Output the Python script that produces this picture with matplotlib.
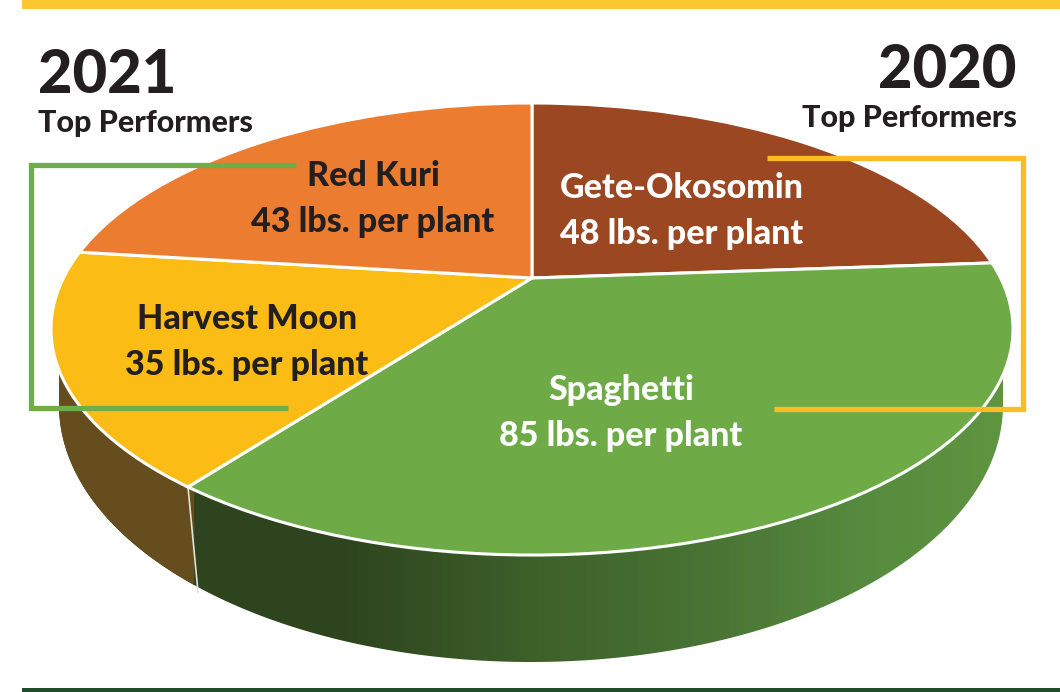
import numpy as np
import matplotlib
matplotlib.use('Agg')
import matplotlib.pyplot as plt
from matplotlib.colors import LinearSegmentedColormap
from matplotlib.patches import Polygon
from matplotlib.transforms import Transform

# pounds per plant as printed, slice sizes (degrees)
varieties = ['Gete-Okosomin', 'Spaghetti', 'Harvest Moon', 'Red Kuri']
lbs = [48, 85, 35, 43]
slice_deg = [85.9, 131.1, 60.1, 82.9]
colors = ['#9a4722', '#6eab47', '#fbbc15', '#eb7c30']
text_colors = ['white', 'white', '#231f20', '#231f20']
label_xy = [(682, 211), (621, 413), (247, 342), (373, 199)]


class Tilt(Transform):
    # unit pie seen in perspective, output in image pixels
    input_dims = 2
    output_dims = 2

    def transform_non_affine(self, xy):
        xy = np.asarray(xy)
        w = 1 + 0.2257 * xy[:, 1]
        return np.column_stack([532 + 468.6 * xy[:, 0] / w, 278 - 214.5 * xy[:, 1] / w])


fig = plt.figure(figsize=(10.6, 6.92), dpi=100)
ax = fig.add_axes([0, 0, 1, 1])

# side wall, hidden part runs behind the top of the pie
t = np.linspace(0, np.pi, 200)
wall_x = np.r_[531 + 472 * np.cos(t), 59, 1003]
wall_y = np.r_[405 + 257 * np.sin(t), 340, 340]
wall = Polygon(np.column_stack([wall_x, wall_y]), closed=True, fc='none', ec='none')
ax.add_patch(wall)
green = LinearSegmentedColormap.from_list('wall', [(0, '#2e441e'), (0.3, '#2e441e'), (0.5, '#3d6029'),
                                                   (0.7, '#4a7535'), (0.85, '#568a3e'), (1, '#5f9540')])
grad = ax.imshow(np.linspace(0, 1, 256).reshape(1, -1), cmap=green, extent=[59, 1003, 670, 340],
                 aspect='auto', zorder=1)
grad.set_clip_path(wall)
brown = ax.fill_betweenx([340, 670], 50, [193, 193], color='#664d1e', zorder=2)
brown.set_clip_path(wall)
ax.plot([188, 198], [487, 592], color='#dfe3da', lw=1.2, zorder=3)

wedges, _ = ax.pie(slice_deg, colors=colors, startangle=90, counterclock=False,
                   wedgeprops=dict(edgecolor='white', linewidth=2.2))
tilt = Tilt() + ax.transData
for w in wedges:
    w.set_transform(tilt)
    w.set_zorder(4)

ax.set_aspect('auto')
ax.set_xlim(0, 1060)
ax.set_ylim(692, 0)
ax.axis('off')

for name, val, col, (x, y) in zip(varieties, lbs, text_colors, label_xy):
    ax.text(x, y, name + '\n' + str(val) + ' lbs. per plant', color=col, ha='center', va='center',
            fontsize=24.5, fontweight=900, family='Lato', linespacing=1.55, zorder=6)

# brackets tying each year to its slices
ax.plot([296, 31, 31, 288], [165, 165, 408, 408], color='#70ad47', lw=3.8,
        solid_joinstyle='miter', solid_capstyle='butt', zorder=5)
ax.plot([767, 1023, 1023, 774], [158, 158, 409, 409], color='#fdbc24', lw=3.8,
        solid_joinstyle='miter', solid_capstyle='butt', zorder=5)

# page furniture
ax.fill_between([22, 1060], 0, 9, color='#ffc72f', lw=0, zorder=1)
ax.fill_between([22, 1060], 688, 692, color='#1f4d2b', lw=0, zorder=1)

ax.text(38, 93, '2021', color='#231f20', fontsize=43, fontweight=900, family='Lato', va='baseline', zorder=6)
ax.text(38, 132, 'Top Performers', color='#231f20', fontsize=22, fontweight=900, family='Lato', va='baseline', zorder=6)
ax.text(1017, 88, '2020', color='#231f20', fontsize=43, fontweight=900, family='Lato', ha='right', va='baseline', zorder=6)
ax.text(1017, 127, 'Top Performers', color='#231f20', fontsize=22, fontweight=900, family='Lato', ha='right', va='baseline', zorder=6)

fig.savefig('out.png', dpi=100)
